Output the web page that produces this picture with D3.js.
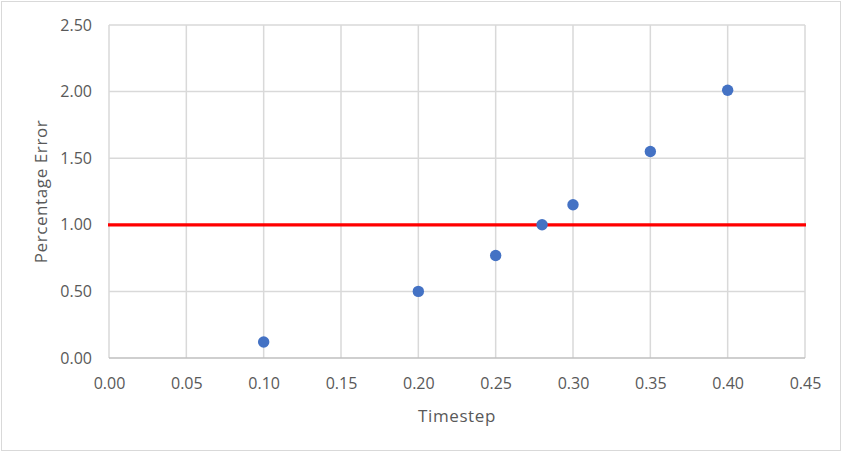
<!DOCTYPE html>
<html>
<head>
<meta charset="utf-8">
<script src="https://cdn.jsdelivr.net/npm/d3@7"></script>
<style>
body { margin: 0; background: #fff; }
text { font-family: "Open Sans", sans-serif; fill: #595959; }
</style>
</head>
<body>
<div id="chart"></div>
<script>
var timestep = [0.10, 0.20, 0.25, 0.28, 0.30, 0.35, 0.40]
var pctError = [0.12, 0.50, 0.77, 1.00, 1.15, 1.55, 2.01]
var threshold = [1.00]
var xTicks = [0, 0.05, 0.10, 0.15, 0.20, 0.25, 0.30, 0.35, 0.40, 0.45]
var yTicks = [0, 0.5, 1.0, 1.5, 2.0, 2.5]

var W = 843, H = 452
var padL = 109, padR = 805, padT = 25, padB = 358

var x = d3.scaleLinear().domain([0, 0.45]).range([padL, padR])
var y = d3.scaleLinear().domain([0, 2.5]).range([padB, padT])

var svg = d3.select('#chart').append('svg')
	.attr('width', W)
	.attr('height', H)

// outer chart border
svg.append('rect')
	.attr('x', 1.5).attr('y', 1.5)
	.attr('width', W - 4).attr('height', H - 3)
	.attr('fill', 'none')
	.attr('stroke', '#d9d9d9')
	.attr('stroke-width', 1)

// grid
var grid = svg.append('g')
grid.selectAll('line.gx').data(xTicks).enter().append('line')
	.attr('class', 'gx')
	.attr('x1', d => x(d)).attr('x2', d => x(d))
	.attr('y1', padT).attr('y2', padB)
	.attr('stroke', '#d9d9d9').attr('stroke-width', 1.5)
grid.selectAll('line.gy').data(yTicks).enter().append('line')
	.attr('class', 'gy')
	.attr('x1', padL).attr('x2', padR)
	.attr('y1', d => y(d)).attr('y2', d => y(d))
	.attr('stroke', d => d === 0 ? '#bfbfbf' : '#d9d9d9').attr('stroke-width', 1.5)

// tick labels
var xAxis = d3.axisBottom(x).tickValues(xTicks).tickFormat(d3.format('.2f')).tickSize(0).tickPadding(19.5)
var gx = svg.append('g').attr('transform', 'translate(0,' + padB + ')').call(xAxis)
gx.select('.domain').remove()
gx.selectAll('text').style('font-size', '16px').attr('fill', '#595959')

var yAxis = d3.axisLeft(y).tickValues(yTicks).tickFormat(d3.format('.2f')).tickSize(0).tickPadding(17)
var gy = svg.append('g').attr('transform', 'translate(' + padL + ',0)').call(yAxis)
gy.select('.domain').remove()
gy.selectAll('text').style('font-size', '16px').attr('fill', '#595959')

// threshold line
svg.selectAll('line.thr').data(threshold).enter().append('line')
	.attr('class', 'thr')
	.attr('x1', padL - 1).attr('x2', padR + 1)
	.attr('y1', d => y(d)).attr('y2', d => y(d))
	.attr('stroke', '#ff0000').attr('stroke-width', 3.2)

// points
svg.selectAll('circle').data(timestep).enter().append('circle')
	.attr('cx', d => x(d))
	.attr('cy', (d, i) => y(pctError[i]))
	.attr('r', 5.7)
	.attr('fill', '#4472c4')

// axis titles
svg.append('text')
	.attr('x', 457).attr('y', 422)
	.attr('text-anchor', 'middle')
	.style('font-size', '17px')
	.style('letter-spacing', '0.6px')
	.text('Timestep')
svg.append('text')
	.attr('transform', 'translate(47,191.5) rotate(-90)')
	.attr('text-anchor', 'middle')
	.style('font-size', '17px')
	.style('letter-spacing', '0.6px')
	.text('Percentage Error')
</script>
</body>
</html>
